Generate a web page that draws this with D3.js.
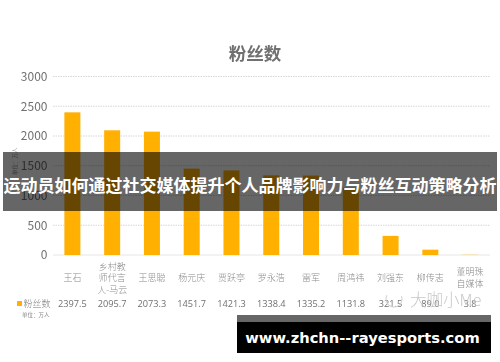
<!DOCTYPE html>
<html><head><meta charset="utf-8">
<script src="https://cdnjs.cloudflare.com/ajax/libs/d3/7.8.5/d3.min.js"></script>
<style>html,body{margin:0;padding:0;background:#fff}svg{display:block}</style>
</head><body><svg id="c" width="500" height="362"></svg>
<script>
const names=[["王石"],["乡村教","师代言","人-马云"],["王思聪"],["杨元庆"],["贾跃亭"],["罗永浩"],["雷军"],["周鸿祎"],["刘强东"],["柳传志"],["董明珠","自媒体"]];
const values=[2397.5,2095.7,2073.3,1451.7,1421.3,1338.4,1335.2,1131.8,321.5,89.0,3.8];
const valueLabels=["2397.5","2095.7","2073.3","1451.7","1421.3","1338.4","1335.2","1131.8","321.5","89.0","3.8"];
const yTicks=[0,500,1000,1500,2000,2500,3000];
const chartTitle="粉丝数";
const seriesName="粉丝数";
const unit="单位：万人";
const overlayTitle="运动员如何通过社交媒体提升个人品牌影响力与粉丝互动策略分析";
const site="www.zhchn--rayesports.com";
const watermark="大咖小Me";
const FF='"Noto Sans CJK SC","Noto Sans",sans-serif';
const svg=d3.select("#c");
const defs=svg.append("defs");
defs.append("filter").attr("id","soft").append("feGaussianBlur").attr("stdDeviation",0.5);
const g=svg.append("g").attr("filter","url(#soft)").attr("font-family",FF);
const x=d3.scaleBand().domain(d3.range(values.length)).range([52.5,490]).paddingInner(0.6).paddingOuter(0.3);
const y=d3.scaleLinear().domain([0,3000]).range([255,76.5]);
const grid=g.append("g");
grid.selectAll("line").data(yTicks).join("line")
 .attr("x1",53).attr("x2",490).attr("y1",d=>y(d)).attr("y2",d=>y(d))
 .attr("stroke",d=>d===0?"#e6e6e6":"#d6d6d6").attr("stroke-width",1)
 .attr("stroke-dasharray",d=>d===0?null:"1.5 1");
const yAxis=d3.axisLeft(y).tickValues(yTicks).tickSize(0).tickPadding(0).tickFormat(d3.format("d"));
const ya=g.append("g").attr("transform","translate(47.5,0)").call(yAxis);
ya.select(".domain").remove();
ya.selectAll("text").attr("font-size",12).attr("fill","#707070").attr("font-family",FF);
g.append("g").selectAll("rect").data(values).join("rect")
 .attr("x",(d,i)=>x(i)+x.bandwidth()/2-8).attr("width",16)
 .attr("y",d=>y(d)).attr("height",d=>255-y(d)).attr("fill","#ffb000");
g.append("text").attr("x",255).attr("y",60).attr("text-anchor","middle").attr("font-size",17.5).attr("font-weight",700).attr("fill","#707070").text(chartTitle);
g.append("text").attr("transform","translate(16.5,175) rotate(-90)").attr("font-size",5.5).attr("fill","#999").text(unit);
const cat=g.append("g").selectAll("text").data(names).join("text")
 .attr("text-anchor","middle").attr("font-size",9).attr("font-weight",300).attr("fill","#8b8b8b");
cat.each(function(lines,i){
  const cx=x(i)+x.bandwidth()/2, y0=281-(lines.length-1)*11.5/2;
  d3.select(this).selectAll("tspan").data(lines).join("tspan")
   .attr("x",cx).attr("y",(l,j)=>y0+j*11.5).text(l=>l);
});
g.append("g").selectAll("text").data(valueLabels).join("text")
 .attr("x",(d,i)=>x(i)+x.bandwidth()/2).attr("y",307).attr("text-anchor","middle")
 .attr("font-size",9.2).attr("fill","#707070").attr("font-family",'"Open Sans",sans-serif').text(d=>d);
g.append("rect").attr("x",17).attr("y",301).attr("width",5).attr("height",5).attr("fill","#ffb000");
g.append("text").attr("x",23.5).attr("y",307).attr("font-size",9).attr("font-weight",300).attr("fill","#777").text(seriesName);
g.append("text").attr("x",22).attr("y",316.5).attr("font-size",5.5).attr("fill","#8a8a8a").text(unit);
g.append("text").attr("x",410).attr("y",306).attr("font-size",16.5).attr("fill","#c8c8c8").attr("font-family",'"Noto Sans CJK SC",sans-serif').attr("font-weight",300).text(watermark);
g.append("path").attr("d",d3.arc()({innerRadius:7.5,outerRadius:8.5,startAngle:1.2,endAngle:5.2})).attr("transform","translate(394,299)").attr("fill","#d0d0d0");
svg.append("rect").attr("x",3).attr("y",152).attr("width",494).attr("height",59).attr("fill","#000").attr("fill-opacity",0.6);
svg.append("text").attr("x",250).attr("y",191.5).attr("text-anchor","middle").attr("font-size",17).attr("font-weight",700)
 .attr("font-family",FF).attr("fill","#fff").text(overlayTitle);
svg.append("rect").attr("x",237).attr("y",315).attr("width",254).attr("height",7).attr("fill","#666");
svg.append("rect").attr("x",237).attr("y",322).attr("width",254).attr("height",31).attr("fill","#000");
svg.append("text").attr("x",362.5).attr("y",343).attr("text-anchor","middle").attr("font-size",14.7).attr("font-weight",700)
 .attr("font-family",'"DejaVu Sans",sans-serif').attr("fill","#fff").text(site);
</script></body></html>
